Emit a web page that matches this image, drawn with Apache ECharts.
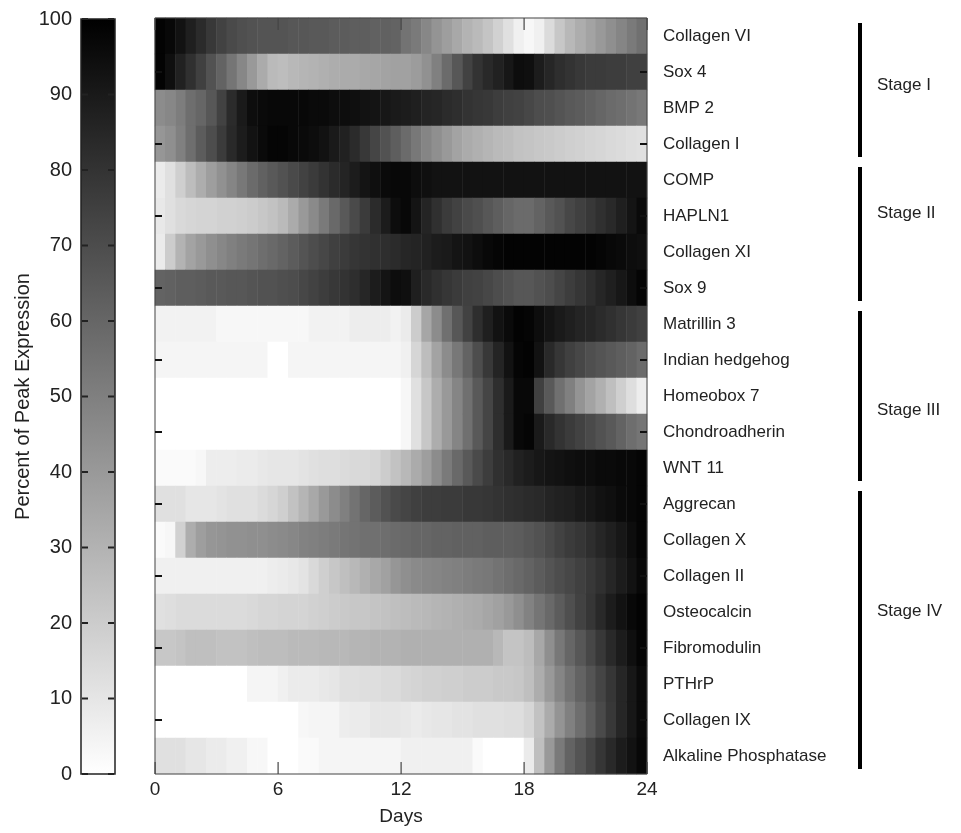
<!DOCTYPE html>
<html>
<head>
<meta charset="utf-8">
<script src="https://cdn.jsdelivr.net/npm/echarts@6/dist/echarts.min.js"></script>
<style>html,body{margin:0;padding:0;background:#fff}#main{width:961px;height:833px}</style>
</head>
<body>
<div id="main"></div>
<script>
// Genes, top to bottom
const genes = ['Collagen VI','Sox 4','BMP 2','Collagen I','COMP','HAPLN1','Collagen XI','Sox 9',
  'Matrillin 3','Indian hedgehog','Homeobox 7','Chondroadherin','WNT 11','Aggrecan','Collagen X',
  'Collagen II','Osteocalcin','Fibromodulin','PTHrP','Collagen IX','Alkaline Phosphatase'];

// Half-day cells from day 0 to day 24
const dayCells = Array.from({length: 48}, (_, i) => i * 0.5);
const dayTicks = [0, 6, 12, 18, 24];
const percentTicks = [0, 10, 20, 30, 40, 50, 60, 70, 80, 90, 100];

// Percent of peak expression per half-day cell
const collagenVI = [99,97,93,88,83,78,74,71,69,68,67,67,67,66,66,65,65,64,64,63,63,62,62,61,55,52,47,42,38,34,30,27,23,18,12,6,3,6,14,22,28,32,36,40,44,48,52,56];
const sox4 = [99,94,87,81,75,68,61,54,47,40,33,27,26,28,29,30,31,32,33,33,34,35,36,37,37,39,43,50,58,66,74,80,84,87,91,95,94,89,85,82,80,78,77,77,76,76,75,75];
const bmp2 = [45,47,51,57,60,66,74,83,90,95,96,97,97,97,97,96,96,95,95,94,93,92,91,90,89,88,86,85,83,82,80,79,78,76,75,74,72,70,69,67,65,64,62,60,58,57,55,53];
const collagenI = [41,44,50,57,64,70,77,84,89,93,96,98,98,97,96,95,93,90,87,83,78,73,68,63,58,53,48,44,40,36,33,31,29,27,26,24,23,22,21,20,19,18,17,16,15,14,13,12];
const comp = [8,12,19,26,32,38,43,48,53,58,62,65,68,71,74,77,80,83,86,89,92,94,96,97,97,95,94,93,93,93,93,93,93,93,93,93,93,93,93,93,93,93,93,93,93,93,93,93];
const hapln1 = [9,12,15,16,17,17,18,18,19,20,22,24,27,33,40,46,52,59,65,71,77,83,89,95,97,92,86,81,77,74,71,69,66,63,60,58,58,61,65,68,72,75,78,81,84,88,92,96];
const collagenXI = [8,20,30,36,40,44,47,50,52,54,57,59,61,64,67,70,72,75,77,79,80,81,82,83,85,86,87,89,90,92,93,95,97,98,99,99,99,99,99,99,99,99,99,98,97,96,95,94];
const sox9 = [61,62,63,63,64,65,65,66,66,67,68,68,69,70,72,74,76,78,80,82,85,89,92,95,94,88,84,81,79,77,75,74,72,70,68,66,66,68,70,73,76,79,82,85,88,91,95,98];
const matrillin3 = [5,5,5,5,5,5,3,3,3,3,3,3,3,3,3,5,5,5,5,7,7,7,7,5,8,20,35,45,56,66,74,82,88,93,96,99,98,95,92,90,88,86,85,83,81,79,77,75];
const indianHedgehog = [4,4,4,4,4,4,4,4,4,4,4,0,0,4,4,4,4,4,4,4,4,4,4,4,6,16,26,36,45,53,61,70,78,86,93,98,99,93,84,79,75,72,69,67,65,63,61,58];
const homeobox7 = [0,0,0,0,0,0,0,0,0,0,0,0,0,0,0,0,0,0,0,0,0,0,0,0,3,12,22,32,40,48,56,65,73,82,90,97,97,75,65,56,50,42,36,31,25,19,13,7];
const chondroadherin = [0,0,0,0,0,0,0,0,0,0,0,0,0,0,0,0,0,0,0,0,0,0,0,0,3,12,22,32,40,48,56,65,73,82,90,97,98,90,84,80,77,74,71,68,65,61,57,54];
const wnt11 = [2,2,2,2,3,7,7,7,8,8,9,10,10,10,11,12,13,13,14,15,15,16,20,24,28,33,38,45,52,59,65,71,76,81,84,87,89,91,92,93,94,95,95,96,96,97,97,98];
const aggrecan = [12,12,12,10,10,10,11,12,12,12,14,16,19,24,29,34,40,45,50,55,60,64,68,71,73,75,76,76,77,77,78,78,79,80,81,82,83,84,86,87,88,90,91,93,94,96,97,98];
const collagenX = [2,3,18,32,38,41,42,43,43,44,44,45,46,47,49,50,51,52,54,55,56,56,57,58,59,60,60,61,61,62,62,62,63,63,63,64,66,68,71,74,77,79,82,85,88,91,95,98];
const collagenII = [6,6,6,6,6,6,6,6,6,6,6,7,8,9,11,15,19,22,25,28,31,34,37,41,44,46,47,48,49,50,51,52,53,55,57,59,61,64,67,70,72,75,78,81,85,89,93,97];
const osteocalcin = [12,13,14,14,14,14,14,14,14,15,16,16,17,17,17,18,19,20,21,22,22,23,24,25,26,27,28,29,30,31,32,33,35,37,40,44,49,54,59,64,69,74,79,84,89,93,97,99];
const fibromodulin = [22,22,23,25,25,25,24,24,24,25,26,26,26,27,27,27,28,28,28,29,29,30,30,30,31,31,31,31,31,31,31,31,31,28,23,23,26,34,44,53,60,66,72,78,84,89,94,98];
const pthrp = [0,0,0,0,0,0,0,0,0,4,4,4,6,8,8,8,9,10,12,12,13,13,14,14,16,17,18,18,19,19,20,20,20,21,21,22,25,32,40,48,55,61,67,73,79,85,91,96];
const collagenIX = [0,0,0,0,0,0,0,0,0,0,0,0,0,0,3,4,4,4,7,8,8,10,10,10,9,8,9,10,10,11,11,12,12,12,13,13,16,24,33,42,50,57,64,71,78,85,91,96];
const alkalinePhosphatase = [12,12,12,10,10,8,8,6,6,3,3,0,0,0,2,2,4,4,4,4,4,4,4,4,6,6,6,6,6,6,6,2,0,0,0,0,8,25,40,52,61,67,73,79,84,89,93,97];

const rows = [collagenVI, sox4, bmp2, collagenI, comp, hapln1, collagenXI, sox9, matrillin3, indianHedgehog,
  homeobox7, chondroadherin, wnt11, aggrecan, collagenX, collagenII, osteocalcin, fibromodulin, pthrp,
  collagenIX, alkalinePhosphatase];

// Stages: gene index ranges, and the row position (in rows from the top) of each stage label
const stageNames = ['Stage I', 'Stage II', 'Stage III', 'Stage IV'];
const stageFirst = [0, 4, 8, 13];
const stageLast = [3, 7, 12, 20];
const stageLabelRow = [1.86, 5.42, 10.89, 16.47];

const heatData = [];
rows.forEach((vals, r) => vals.forEach((v, c) => heatData.push([c, r, v])));

const FONT = "'Liberation Sans', Arial, Helvetica, sans-serif";
const TXT = '#222';
const BAR_LOW = '#ffffff', BAR_HIGH = '#000000';
const noLine = {show: false, onZero: false};
const pMin = percentTicks[0], pMax = percentTicks[percentTicks.length - 1];
const lastRow = genes.length - 1;

function tickRect(x, y, w, h, color) {
  return {type: 'rect', shape: {x, y, width: w, height: h}, style: {fill: color}};
}

const chart = echarts.init(document.getElementById('main'));
chart.setOption({
  animation: false,
  backgroundColor: '#fff',
  textStyle: {fontFamily: FONT},
  grid: [
    {left: 155, top: 18, width: 492, height: 756, show: true, borderColor: '#444', borderWidth: 1,
     backgroundColor: 'transparent', z: 6},
    {left: 81, top: 19, width: 34, height: 755, show: true, borderColor: '#222', borderWidth: 1.5,
     backgroundColor: 'transparent', z: 10}
  ],
  xAxis: [
    {type: 'category', data: dayCells, gridIndex: 0, show: false},
    {type: 'value', gridIndex: 0, min: dayTicks[0], max: dayTicks[dayTicks.length - 1], interval: 6,
     position: 'bottom', axisLine: noLine, axisTick: {show: false},
     axisLabel: {fontSize: 19, color: TXT, margin: 6, fontFamily: FONT},
     splitLine: {show: false},
     name: 'Days', nameLocation: 'middle', nameGap: 33,
     nameTextStyle: {fontSize: 19, color: TXT, fontFamily: FONT}},
    {type: 'value', gridIndex: 1, min: 0, max: 1, show: false}
  ],
  yAxis: [
    {type: 'category', data: genes, inverse: true, gridIndex: 0, position: 'right',
     axisLine: noLine, axisTick: {show: false},
     axisLabel: {show: true, interval: 0, fontSize: 17, color: TXT, margin: 16, fontFamily: FONT}},
    {type: 'value', gridIndex: 1, min: pMin, max: pMax, interval: 10,
     position: 'left', axisLine: noLine, axisTick: {show: false},
     axisLabel: {fontSize: 20, color: TXT, margin: 9, fontFamily: FONT},
     splitLine: {show: false},
     name: 'Percent of Peak Expression', nameLocation: 'middle', nameGap: 48, nameRotate: 90,
     nameTextStyle: {fontSize: 20, color: TXT, fontFamily: FONT}}
  ],
  visualMap: {
    type: 'continuous', min: pMin, max: pMax,
    seriesIndex: 0, show: false, inRange: {color: [BAR_LOW, BAR_HIGH]}
  },
  series: [
    {type: 'heatmap', xAxisIndex: 0, yAxisIndex: 0, data: heatData, z: 2,
     itemStyle: {borderWidth: 0}, emphasis: {disabled: true}, progressive: 0},
    // colour bar: gradient over the 0-100 scale
    {type: 'custom', xAxisIndex: 2, yAxisIndex: 1, clip: false, silent: true, z: 3,
     data: [[0, pMax, 1, pMin]],
     renderItem: (params, api) => {
       const a = api.coord([api.value(0), api.value(1)]);
       const b = api.coord([api.value(2), api.value(3)]);
       return {type: 'rect', shape: {x: a[0], y: a[1], width: b[0] - a[0], height: b[1] - a[1]},
         style: {fill: new echarts.graphic.LinearGradient(0, 0, 0, 1, [
           {offset: 0, color: BAR_HIGH}, {offset: 1, color: BAR_LOW}])}};
     }},
    // colour-bar ticks on both edges (top layer)
    {type: 'custom', xAxisIndex: 2, yAxisIndex: 1, clip: false, silent: true, zlevel: 1, z: 20,
     data: percentTicks.map(p => [0, p]),
     renderItem: (params, api) => {
       const y = api.coord([0, api.value(1)])[1];
       const xl = api.coord([0, pMin])[0];
       const xr = api.coord([1, pMin])[0];
       return {type: 'group', children: [
         tickRect(xl + 1, y - 1, 6, 2, '#222'),
         tickRect(xr - 7, y - 1, 6, 2, '#222')
       ]};
     }},
    // day ticks, top and bottom, inside the plot (top layer)
    {type: 'custom', xAxisIndex: 1, yAxisIndex: 0, clip: false, silent: true, zlevel: 1, z: 20,
     data: dayTicks.map(d => [d, 0]),
     renderItem: (params, api) => {
       const rowH = api.size([0, 1])[1];
       const x = Math.round(api.coord([api.value(0), 0])[0]);
       const yTop = api.coord([0, 0])[1] - rowH / 2;
       const yBot = api.coord([0, lastRow])[1] + rowH / 2;
       return {type: 'group', children: [
         tickRect(x - 0.5, yTop, 1.2, 12, '#444'),
         tickRect(x - 0.5, yBot - 12, 1.2, 12, '#444')
       ]};
     }},
    // row ticks, left and right, inside the plot (every second gene row)
    {type: 'custom', xAxisIndex: 1, yAxisIndex: 0, clip: false, silent: true, zlevel: 1, z: 20,
     data: genes.map((g, i) => [0, i]).filter(d => d[1] % 2 === 1),
     renderItem: (params, api) => {
       const y = api.coord([0, api.value(1)])[1];
       const xl = api.coord([dayTicks[0], 0])[0];
       const xr = api.coord([dayTicks[dayTicks.length - 1], 0])[0];
       return {type: 'group', children: [
         tickRect(xl, y - 1, 7, 2, '#111'),
         tickRect(xr - 7, y - 1, 7, 2, '#111')
       ]};
     }},
    // stage bars and labels
    {type: 'custom', xAxisIndex: 0, yAxisIndex: 0, clip: false, silent: true,
     data: stageNames.map((n, i) => [0, stageFirst[i], stageLast[i], stageLabelRow[i]]),
     renderItem: (params, api) => {
       const cs = params.coordSys;
       const rowH = api.size([0, 1])[1];
       const yTop = api.coord([0, api.value(1)])[1] - rowH / 2 + 5;
       const yBot = api.coord([0, api.value(2)])[1] + rowH / 2 - 5;
       const yLab = cs.y + api.value(3) * rowH;
       const x = cs.x + cs.width + 213;
       return {type: 'group', children: [
         {type: 'rect', shape: {x: x - 2, y: yTop, width: 4, height: yBot - yTop}, style: {fill: '#000'}},
         {type: 'text', style: {text: stageNames[params.dataIndex], x: x + 17, y: yLab,
           verticalAlign: 'middle', align: 'left', fontSize: 17, fill: TXT, fontFamily: FONT}}
       ]};
     }}
  ]
});
</script>
</body>
</html>
